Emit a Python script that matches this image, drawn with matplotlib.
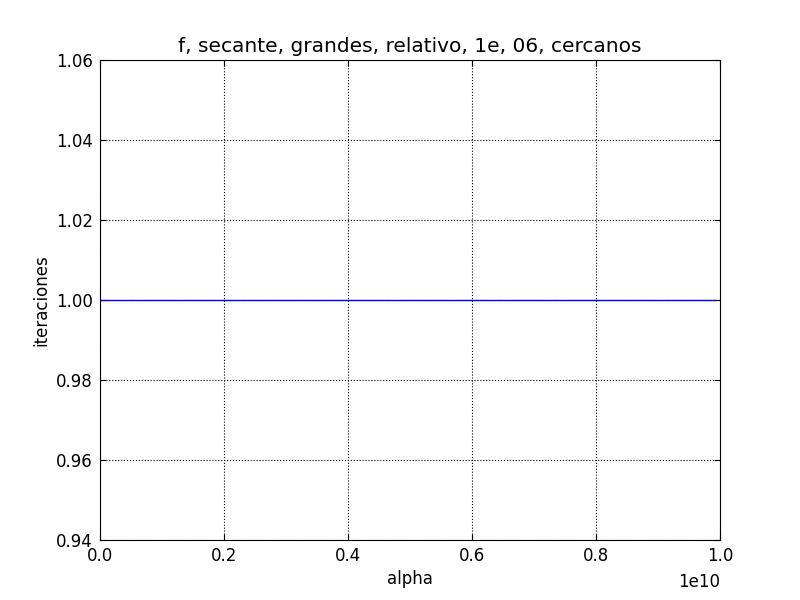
import matplotlib
matplotlib.use("Agg")
import matplotlib.pyplot as plt

alpha = [1.0, 1.0e9, 2.0e9, 3.0e9, 4.0e9, 5.0e9, 6.0e9, 7.0e9, 8.0e9, 9.0e9, 9.92e9]
iteraciones = [1, 1, 1, 1, 1, 1, 1, 1, 1, 1, 1]

fig = plt.figure(figsize=(8, 6), dpi=100)
ax = fig.add_axes([0.125, 0.1, 0.775, 0.8])
ax.plot(alpha, iteraciones, color="blue", linewidth=1)
ax.set_xlim(0, 1e10)
ax.set_ylim(0.94, 1.06)
ax.set_xticks([0, 2e9, 4e9, 6e9, 8e9, 1e10])
ax.set_xticklabels(["0.0", "0.2", "0.4", "0.6", "0.8", "1.0"])
ax.set_yticks([0.94, 0.96, 0.98, 1.00, 1.02, 1.04, 1.06])
ax.set_yticklabels(["0.94", "0.96", "0.98", "1.00", "1.02", "1.04", "1.06"])
ax.text(1.0, -0.068, "1e10", transform=ax.transAxes, ha="right", va="top", fontsize=12)
ax.tick_params(direction="in", top=True, right=True, labelsize=12, length=4, pad=5)
ax.grid(True, color="black", linestyle=":", linewidth=0.8)
ax.set_title("f, secante, grandes, relativo, 1e, 06, cercanos", fontsize=14.5)
ax.set_xlabel("alpha", fontsize=12)
ax.set_ylabel("iteraciones", fontsize=12)
fig.savefig("out.png", dpi=100)
